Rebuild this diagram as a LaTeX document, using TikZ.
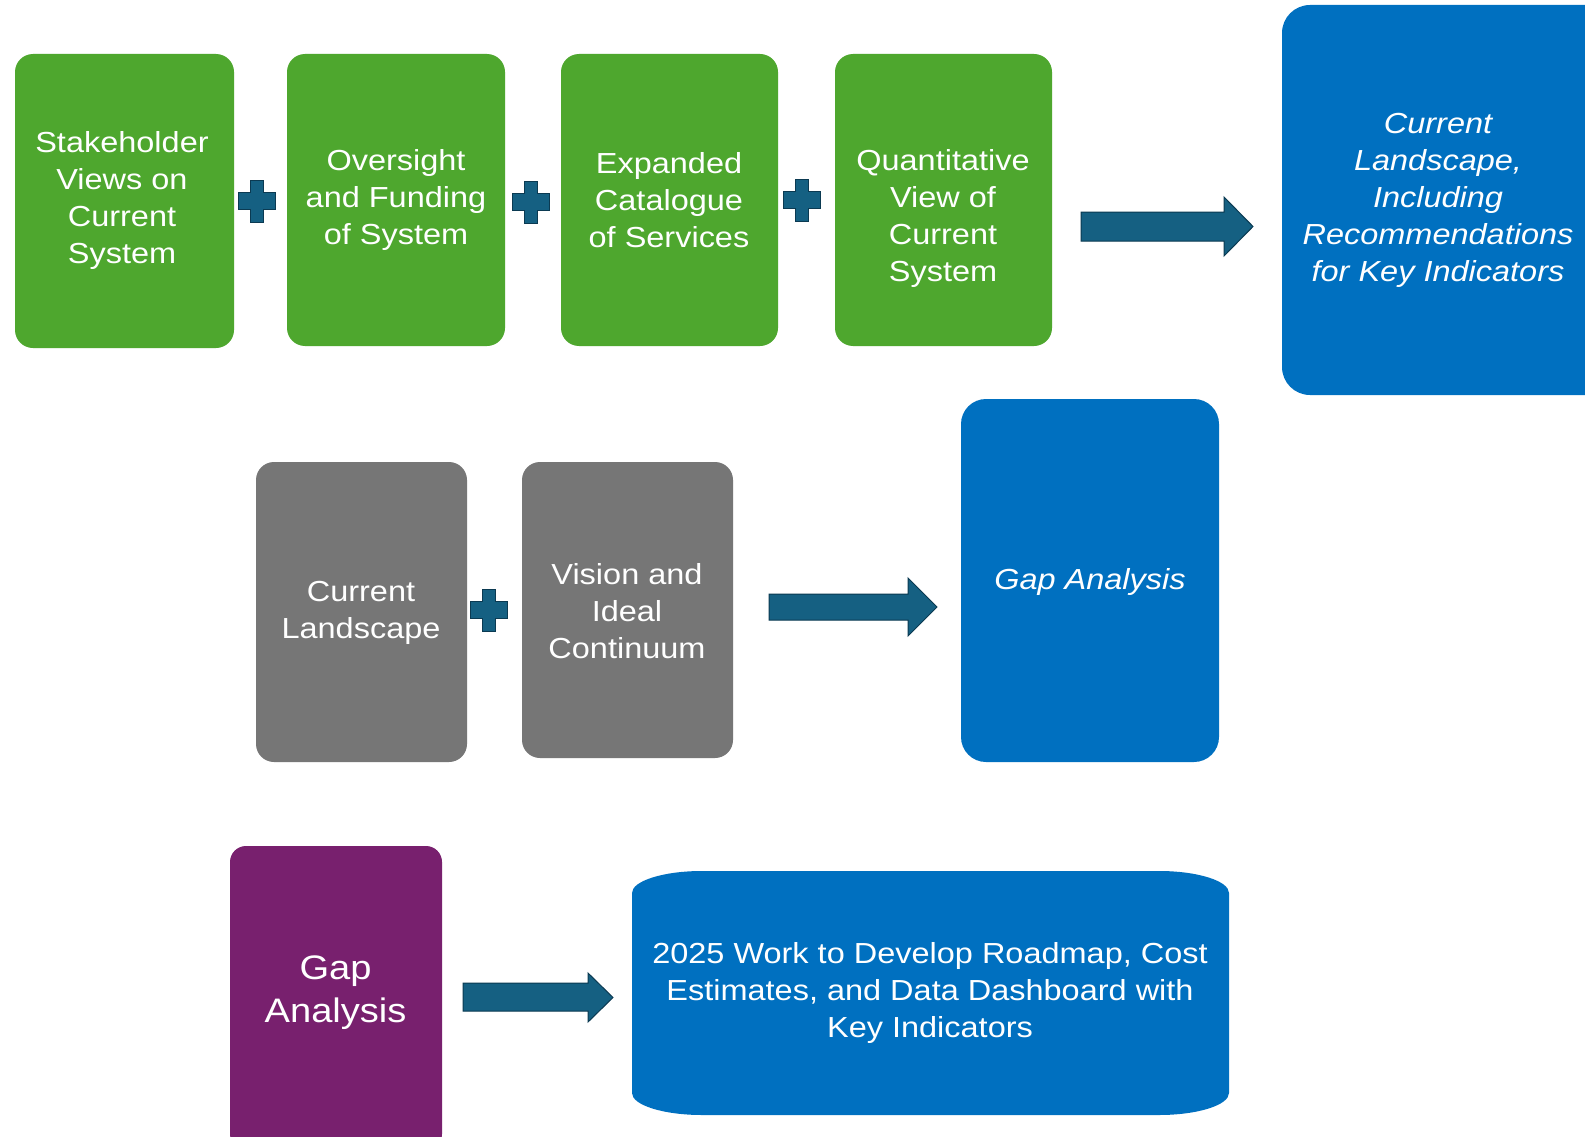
\documentclass[tikz,border=0pt]{standalone}
\usepackage{fontspec}
\setmainfont{Liberation Sans}[FakeStretch=1.12]
\usetikzlibrary{calc}
\definecolor{grn}{HTML}{4EA72E}
\definecolor{blu}{HTML}{0070C0}
\definecolor{gry}{HTML}{767676}
\definecolor{prp}{HTML}{78206E}
\definecolor{arr}{HTML}{156082}
\definecolor{arrline}{HTML}{0B3A52}
\tikzset{
  box/.style={rectangle, rounded corners=18pt, inner sep=0pt, draw=none},
  txt/.style={text=white, align=center, inner sep=0pt, yshift=-3.5pt, font=\fontsize{29}{37}\selectfont},
  itxt/.style={txt, font=\fontsize{29}{37}\selectfont\itshape},
  bigtxt/.style={txt, font=\fontsize{34}{43.5}\selectfont},
  blockarrow/.style={fill=arr, draw=arrline, line width=1pt, line join=miter},
  plussign/.pic={\filldraw[fill=arr, draw=arrline, line width=1pt]
    (-6.7,-21) -- (6.7,-21) -- (6.7,-8.5) -- (18.5,-8.5) -- (18.5,8.5) -- (6.7,8.5)
    -- (6.7,21) -- (-6.7,21) -- (-6.7,8.5) -- (-18.5,8.5) -- (-18.5,-8.5) -- (-6.7,-8.5) -- cycle;}
}
\begin{document}
\begin{tikzpicture}[x=1pt,y=-1pt]
\clip (0,0) rectangle (1585,1137);
\fill[white] (0,0) rectangle (1585,1137);

% Row 1
\node[box, fill=grn, minimum width=219pt, minimum height=294pt] (g1) at (124.5,201) {};
\node[box, fill=grn, minimum width=218pt, minimum height=292pt] (g2) at (396,200) {};
\node[box, fill=grn, minimum width=217pt, minimum height=292pt] (g3) at (669.5,200) {};
\node[box, fill=grn, minimum width=217pt, minimum height=292pt] (g4) at (943.5,200) {};
\node[box, fill=blu, rounded corners=28pt, minimum width=338pt, minimum height=390pt] (tr) at (1451,200) {};

\node[txt] (g1t) at (122,197) {Stakeholder\\Views on\\Current\\System};
\node[txt] (g2t) at (396,196.6) {Oversight\\and Funding\\of System};
\node[txt] (g3t) at (669,196.6) {Expanded\\Catalogue\\of Services};
\node[txt] (g4t) at (943,215) {Quantitative\\View of\\Current\\System};
\node[itxt] (trt) at (1438,197) {Current\\Landscape,\\Including\\Recommendations\\for Key Indicators};

\pic at (257,201) {plussign};
\pic at (531,202) {plussign};
\pic at (802,200) {plussign};

\filldraw[blockarrow] (1081,212) -- (1224,212) -- (1224,197) -- (1253,226.5) -- (1224,256) -- (1224,241) -- (1081,241) -- cycle;

% Row 2
\node[box, fill=gry, minimum width=211pt, minimum height=300pt] (c1) at (361.5,612) {};
\node[box, fill=gry, minimum width=211pt, minimum height=296pt] (c2) at (627.5,610) {};
\node[box, fill=blu, rounded corners=25pt, minimum width=258pt, minimum height=363pt] (gap) at (1090,580.5) {};

\node[txt] (c1t) at (361,609.5) {Current\\Landscape};
\node[txt] (c2t) at (627,608) {Vision and\\Ideal\\Continuum};
\node[itxt] (gapt) at (1090,578) {Gap Analysis};

\pic at (489,610) {plussign};

\filldraw[blockarrow] (769,594) -- (908,594) -- (908,578) -- (937,607) -- (908,636) -- (908,620) -- (769,620) -- cycle;

% Row 3
\node[box, fill=prp, rounded corners=16pt, minimum width=212pt, minimum height=304pt] (pg) at (336,998) {};
\node[bigtxt] (pgt) at (335.6,989) {Gap\\Analysis};

\filldraw[blockarrow] (463,983) -- (588,983) -- (588,973) -- (613,997.5) -- (588,1022) -- (588,1011) -- (463,1011) -- cycle;

\fill[blu] (632,893) .. controls (632,880.9) and (663.4,871) .. (702,871) -- (1159,871)
  .. controls (1197.6,871) and (1229,880.9) .. (1229,893) -- (1229,1093)
  .. controls (1229,1105.1) and (1197.6,1115) .. (1159,1115) -- (702,1115)
  .. controls (663.4,1115) and (632,1105.1) .. (632,1093) -- cycle;
\node[txt] (road) at (930,989.6) {2025 Work to Develop Roadmap, Cost\\Estimates, and Data Dashboard with\\Key Indicators};
\end{tikzpicture}
\end{document}
